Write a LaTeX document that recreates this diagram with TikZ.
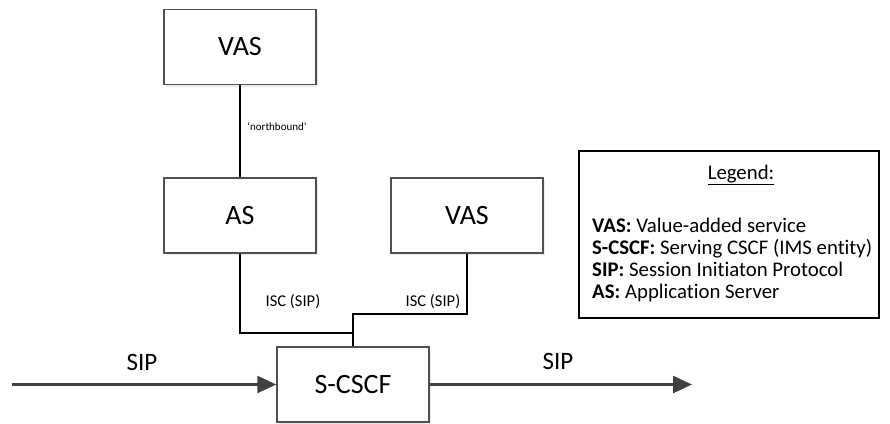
\documentclass[tikz,border=0pt]{standalone}
\usepackage{fontspec}
\setmainfont{Carlito}[Ligatures=NoCommon]
\usepackage{tikz}
\usetikzlibrary{arrows.meta,positioning,shadows}
\definecolor{boxgray}{HTML}{505050}
\definecolor{arrowgray}{HTML}{404040}

\begin{document}
\begin{tikzpicture}[x=1pt,y=-1pt,
  box/.style={draw=boxgray,line width=1.5pt,fill=white,minimum width=152pt,minimum height=75pt,
    font=\fontsize{28}{32}\selectfont,drop shadow={shadow xshift=2pt,shadow yshift=-2pt,opacity=.15}},
  link/.style={draw=black,line width=1.4pt},
  sipline/.style={draw=arrowgray,line width=2.4pt,-{Triangle[length=19pt,width=17pt]}},
  lbl/.style={font=\fontsize{16.5}{19}\selectfont,inner sep=0pt},
  siplbl/.style={font=\fontsize{25}{29}\selectfont,inner sep=0pt}]
\useasboundingbox (0,0) rectangle (890,423);
% entities
\node[box] (vastop) at (240,47) {VAS};
\node[box] (as) at (240,215.5) {AS};
\node[box] (vasr) at (467,215.5) {VAS};
\node[box] (scscf) at (353,384.5) {S-CSCF};
% junctions and free ends
\coordinate (jas) at (353,333);
\coordinate (jvas) at (353,314);
\coordinate (sipin) at (12,384.5);
\coordinate (sipout) at (692,384.5);
% connectors
\draw[link] (vastop.south) -- (as.north);
\draw[link] (as.south) |- (jas);
\draw[link] (vasr.south) |- (jvas) -- (scscf.north);
\draw[sipline] (sipin) -- (scscf.west);
\draw[sipline] (scscf.east) -- (sipout);
% labels
\node[lbl,font=\fontsize{11}{13}\selectfont] (nb) at (277,127) {`northbound'};
\node[lbl] (isc1) at (293,302) {ISC (SIP)};
\node[lbl] (isc2) at (433,302) {ISC (SIP)};
\node[siplbl] (sip1) at (142,362) {SIP};
\node[siplbl] (sip2) at (558,361) {SIP};
% legend
\node[draw=black,line width=1.5pt,minimum width=300pt,minimum height=167pt] (legend) at (729,234.5) {};
\node[font=\fontsize{20.8}{22}\selectfont,inner sep=0pt] (legtitle) at (741,175) {\underline{Legend:}};
\node[font=\fontsize{20.8}{22}\selectfont,inner sep=0pt,align=left,anchor=west] (legtext) at (592,260)
  {\textbf{VAS:} Value-added service\\
   \textbf{S-CSCF:} Serving CSCF (IMS entity)\\
   \textbf{SIP:} Session Initiaton Protocol\\
   \textbf{AS:} Application Server};
\end{tikzpicture}
\end{document}
